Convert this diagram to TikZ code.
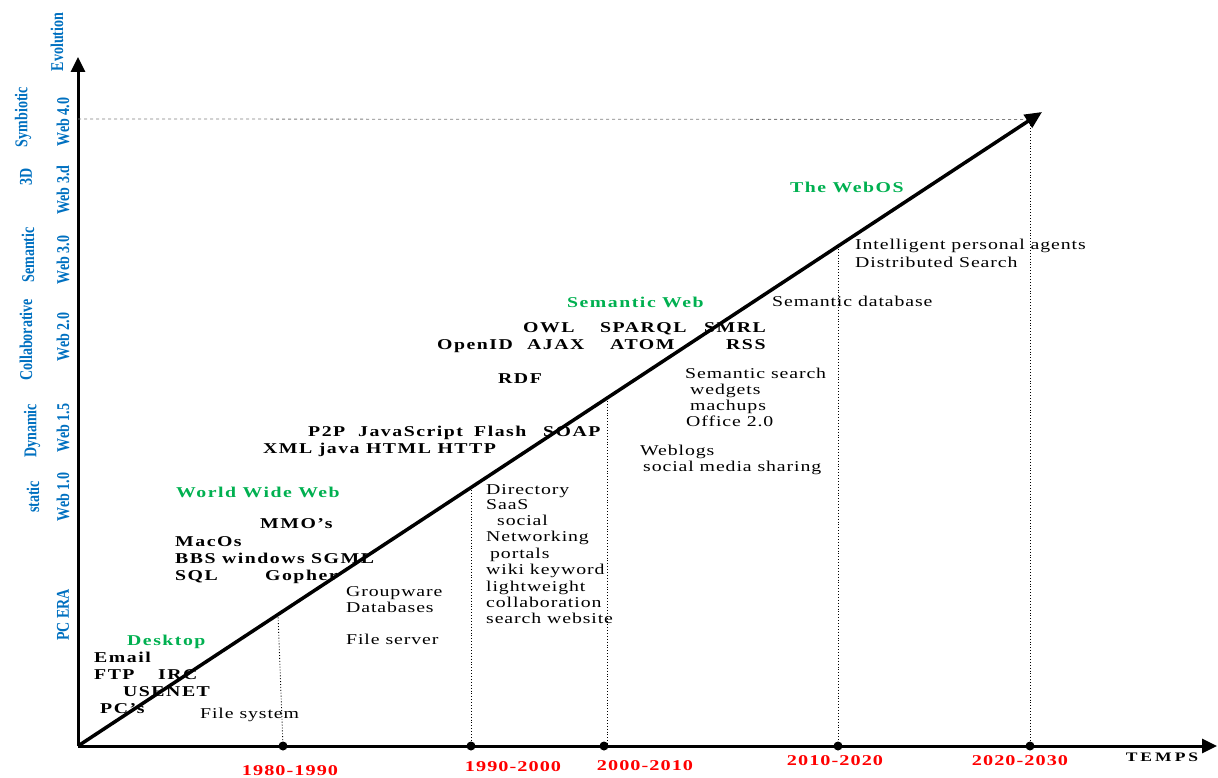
\documentclass[tikz,border=0pt]{standalone}
\usepackage{fontspec}
\setmainfont{Liberation Serif}
\newfontfamily\regfont[FakeStretch=1.32,LetterSpace=6]{Liberation Serif}
\newfontfamily\boldfont[FakeStretch=1.32,LetterSpace=10]{Liberation Serif}
\newfontfamily\vertfont[FakeStretch=0.78]{Liberation Serif}
\newfontfamily\datefont[FakeStretch=1.35,LetterSpace=7]{Liberation Serif}
\newfontfamily\tempsfont[FakeStretch=1.35,LetterSpace=23]{Liberation Serif}
\usetikzlibrary{arrows.meta}
\definecolor{webblue}{HTML}{0070C0}
\definecolor{webgreen}{HTML}{00B050}
\begin{document}
\begin{tikzpicture}[x=1pt,y=-1pt,
 reg/.style={anchor=base west,inner sep=0pt,font=\regfont\fontsize{15}{16}\selectfont},
 bld/.style={anchor=base west,inner sep=0pt,font=\boldfont\bfseries\fontsize{15}{16}\selectfont},
 grn/.style={bld,text=webgreen},
 vlab/.style={rotate=90,inner sep=0pt,text=webblue,font=\vertfont\bfseries\fontsize{18}{20}\selectfont},
 datelab/.style={inner sep=0pt,text=red,font=\datefont\bfseries\fontsize{15}{16}\selectfont},
 axisline/.style={line width=3pt,-{Triangle[length=15pt,width=14pt]}},
 dotmark/.style={circle,fill=black,inner sep=0pt,minimum size=9pt},
 guide/.style={dotted,line width=0.9pt},
]
\useasboundingbox (0,0) rectangle (1218,778);
% axes
\coordinate (O) at (78,746);
\coordinate (Ytop) at (78,57);
\coordinate (Xend) at (1217,746);
\coordinate (Dend) at (1042,112);
\coordinate (Lev) at (78,119);
\draw[axisline] (O) -- (Ytop);
\draw[axisline] (O) -- (Xend);
% dots
\node[dotmark] (d1) at (283,746) {};
\node[dotmark] (d2) at (471,746) {};
\node[dotmark] (d3) at (604,746) {};
\node[dotmark] (d4) at (838,746) {};
\node[dotmark] (d5) at (1030,746) {};
% points on diagonal
\coordinate (t1) at (278,614.5);
\coordinate (t2) at (471,487.5);
\coordinate (t3) at (607,398);
\coordinate (t4) at (838,246);
\coordinate (t5) at (1030,119.5);
\draw[guide] (t1) -- (d1.center);
\draw[guide] (t2) -- (d2.center);
\draw[guide] (t3) -- (607,746);
\draw[guide] (t4) -- (d4.center);
\draw[guide] (t5) -- (d5.center);
\draw[dashed,gray,line width=0.8pt] (Lev) -- (t5);
% diagonal
\draw[line width=3.5pt,-{Triangle[length=17pt,width=15pt]}] (O) -- (Dend);
% date labels
\node[datelab] (y1) at (290,771) {1980-1990};
\node[datelab] (y2) at (513,767) {1990-2000};
\node[datelab] (y3) at (645,766) {2000-2010};
\node[datelab] (y4) at (835,761) {2010-2020};
\node[datelab] (y5) at (1020,761) {2020-2030};
\node[inner sep=0pt,font=\tempsfont\bfseries\fontsize{13}{14}\selectfont] (temps) at (1162,757) {TEMPS};
% vertical labels
\node[vlab] (evo) at (57,42) {Evolution};
\node[vlab] (sym) at (23,117) {Symbiotic};
\node[vlab] (w40) at (63,122) {Web 4.0};
\node[vlab] (d3d) at (26,177) {3D};
\node[vlab] (w3d) at (63,190) {Web 3.d};
\node[vlab] (sem) at (28,255) {Semantic};
\node[vlab] (w30) at (63,260) {Web 3.0};
\node[vlab] (col) at (26,340) {Collaborative};
\node[vlab] (w20) at (63,337) {Web 2.0};
\node[vlab] (dyn) at (32,431) {Dynamic};
\node[vlab] (w15) at (63,428) {Web 1.5};
\node[vlab] (sta) at (33,497) {static};
\node[vlab] (w10) at (63,497) {Web 1.0};
\node[vlab] (pce) at (63,615) {PC ERA};
% Desktop era
\node[grn] (desk) at (127,645) {Desktop};
\node[bld] (email) at (94,662) {Email};
\node[bld] (ftp) at (94,679) {FTP};
\node[bld] (irc) at (158,679) {IRC};
\node[bld] (usenet) at (123,696) {USENET};
\node[bld] (pcs) at (100,713) {PC’s};
\node[reg] (fsys) at (200,718) {File system};
% WWW era
\node[grn] (www) at (176,497) {World Wide Web};
\node[bld] (mmo) at (260,528) {MMO’s};
\node[bld] (macos) at (175,546) {MacOs};
\node[bld] (bbs) at (175,563) {BBS windows SGML};
\node[bld] (sql) at (175,580) {SQL};
\node[bld] (gopher) at (265,580) {Gopher};
\node[reg] (grp) at (346,596) {Groupware};
\node[reg] (dbs) at (346,612) {Databases};
\node[reg] (fsrv) at (346,644) {File server};
% 1990-2000
\node[reg] (dir) at (486,494) {Directory};
\node[reg] (saas) at (486,509) {SaaS};
\node[reg] (soc) at (497,525) {social};
\node[reg] (net) at (486,541) {Networking};
\node[reg] (por) at (490,558) {portals};
\node[reg] (wiki) at (486,574) {wiki keyword};
\node[reg] (lw) at (486,591) {lightweight};
\node[reg] (coll) at (486,607) {collaboration};
\node[reg] (sw) at (486,623) {search website};
\node[bld] (xml) at (263,453) {XML java HTML HTTP};
\node[bld] (p2p) at (308,436) {P2P};
\node[bld] (js) at (358,436) {JavaScript};
\node[bld] (flash) at (474,436) {Flash};
\node[bld] (soap) at (543,436) {SOAP};
% 2000-2010
\node[bld] (rdf) at (498,383) {RDF};
\node[bld] (openid) at (437,349) {OpenID};
\node[bld] (ajax) at (527,349) {AJAX};
\node[bld] (atom) at (610,349) {ATOM};
\node[bld] (rss) at (726,349) {RSS};
\node[bld] (owl) at (523,332) {OWL};
\node[bld] (sparql) at (600,332) {SPARQL};
\node[bld] (smrl) at (704,332) {SMRL};
\node[grn] (semweb) at (567,307) {Semantic Web};
\node[reg] (semdb) at (772,306) {Semantic database};
\node[reg] (sems) at (685,378) {Semantic search};
\node[reg] (wedg) at (690,394) {wedgets};
\node[reg] (mach) at (690,410) {machups};
\node[reg] (off) at (686,426) {Office 2.0};
\node[reg] (blogs) at (640,455) {Weblogs};
\node[reg] (smed) at (643,471) {social media sharing};
% 2010-2020
\node[grn] (webos) at (790,193) {The WebOS};
\node[reg] (ipa) at (855,250) {Intelligent personal agents};
\node[reg] (dsr) at (855,267) {Distributed Search};
\end{tikzpicture}
\end{document}
